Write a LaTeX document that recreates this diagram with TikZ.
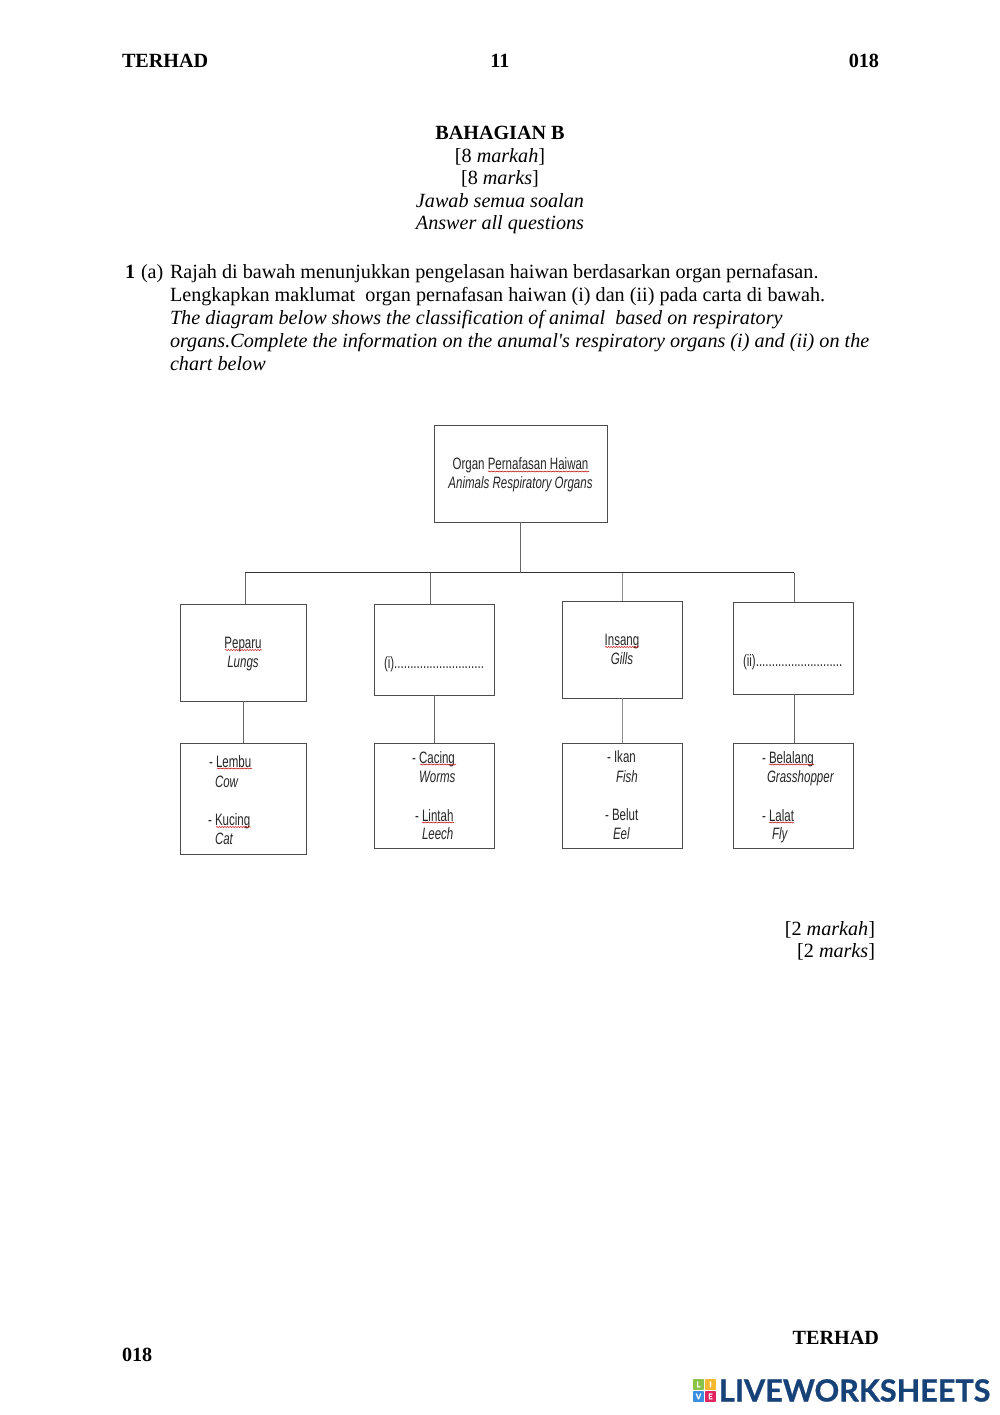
\documentclass[tikz,border=0pt]{standalone}
\usepackage{fontspec}
\setmainfont[Ligatures=TeXOff]{Liberation Serif}
\newfontfamily\chartfont[FakeStretch=0.70]{Liberation Sans}
\newfontfamily\logofont[BoldFeatures={FakeBold=0.8}]{Lato}
\usetikzlibrary{decorations.pathmorphing}
\definecolor{logoblue}{RGB}{22,66,120}
\definecolor{logoL}{RGB}{139,195,74}
\definecolor{logoI}{RGB}{245,184,46}
\definecolor{logoV}{RGB}{59,143,224}
\definecolor{logoE}{RGB}{224,36,94}
\tikzset{
  x=0.5974pt,y=-0.5974pt,
  pg/.style={inner sep=0pt,outer sep=0pt,anchor=base west,font=\fontsize{12bp}{14bp}\selectfont,text=black},
  pgc/.style={pg,anchor=base},
  pge/.style={pg,anchor=base east},
  chart/.style={inner sep=0pt,outer sep=0pt,anchor=base,font=\chartfont\fontsize{9.8bp}{11bp}\selectfont,text=black!85},
  chartl/.style={chart,anchor=base west},
  box/.style={draw=black!70,line width=0.55pt,inner sep=0pt,outer sep=0pt,fill=none},
  link/.style={draw=black!60,line width=0.55pt},
  wavy/.style={draw=red!75!black,line width=0.3pt,decorate,decoration={snake,amplitude=0.3pt,segment length=1.6pt}},
  logobox/.style={inner sep=0pt,outer sep=0pt,minimum size=6.5pt,rounded corners=0.5pt,text=white,font=\logofont\bfseries\fontsize{4.6bp}{5bp}\selectfont},
}
\newcommand{\bx}[6]{\node[box,minimum width=#4*0.5974pt-#2*0.5974pt,minimum height=#5*0.5974pt-#3*0.5974pt] (#1) at ({(#2+#4)/2},{(#3+#5)/2}) {};}
\begin{document}
\begin{tikzpicture}
\useasboundingbox (0,0) rectangle (1000,1415);
\fill[white] (0,0) rectangle (1000,1415);
% header
\node[pg] (hL) at (122,67) {\textbf{TERHAD}};
\node[pgc] (hC) at (500,67) {\textbf{11}};
\node[pge] (hR) at (879,67) {\textbf{018}};
% section
\node[pgc] (s1) at (500,139) {\textbf{BAHAGIAN B}};
\node[pgc] (s2) at (500,162) {[8 \textit{markah}]};
\node[pgc] (s3) at (500,184) {[8 \textit{marks}]};
\node[pgc] (s4) at (500,207) {\textit{Jawab semua soalan}};
\node[pgc] (s5) at (500,229.5) {\textit{Answer all questions}};
% question
\node[pg] (q1) at (125,278.5) {\textbf{1}};
\node[pg] (q2) at (141,278.5) {(a)};
\node[pg] (l1) at (170,278.5) {Rajah di bawah menunjukkan pengelasan haiwan berdasarkan organ pernafasan.};
\node[pg] (l2) at (170,301.5) {Lengkapkan maklumat\ \ organ pernafasan haiwan (i) dan (ii) pada carta di bawah.};
\node[pg] (l3) at (170,324) {\textit{The diagram below shows the classification of animal\ \ based on respiratory}};
\node[pg] (l4) at (170,347) {\textit{organs.Complete the information on the anumal's respiratory organs (i) and (ii) on the}};
\node[pg] (l5) at (170,370) {\textit{chart below}};
% boxes
\bx{root}{434}{425}{607}{522}{}
\bx{a}{180}{604}{306}{701}{}
\bx{b}{374}{604}{494}{695}{}
\bx{c}{562}{601}{682}{698}{}
\bx{d}{733}{602}{853}{694}{}
\bx{e}{180}{743}{306}{854}{}
\bx{f}{374}{743}{494}{848}{}
\bx{g}{562}{743}{682}{848}{}
\bx{h}{733}{743}{853}{848}{}
% connectors
\coordinate (busL) at (245,572.5);
\coordinate (busR) at (794,572.5);
\coordinate (busM) at (520.5,572.5);
\coordinate (dropB) at (430,572.5);
\coordinate (dropC) at (622,572.5);
\draw[link,draw=black!80] (busL) -- (busR);
\draw[link] (root.south) -- (busM);
\draw[link] (busL) -- (busL |- a.north);
\draw[link] (dropB) -- (dropB |- b.north);
\draw[link,draw=black!45] (dropC) -- (dropC |- c.north);
\draw[link] (busR) -- (busR |- d.north);
\coordinate (ae) at (243.5,701);
\coordinate (bf) at (434,695);
\coordinate (cg) at (622,698);
\coordinate (dh) at (794,694);
\draw[link] (ae) -- (ae |- e.north);
\draw[link] (bf) -- (bf |- f.north);
\draw[link,draw=black!45] (cg) -- (cg |- g.north);
\draw[link] (dh) -- (dh |- h.north);
% chart text
\node[chart] (t0) at (520.5,469) {Organ Pernafasan Haiwan};
\node[chart] (t0i) at (520.5,488) {\itshape Animals Respiratory Organs};
\draw[wavy] (488,471.5) -- (589,471.5);
\node[chart] (ta) at (243,648) {Peparu};
\node[chart] (tai) at (243,667) {\itshape Lungs};
\draw[wavy] (225,650) -- (262,650);
\node[chartl] (tb) at (384,668) {(i)............................};
\node[chart] (tc) at (622,645) {Insang};
\node[chart] (tci) at (622,664) {\itshape Gills};
\draw[wavy] (605,647) -- (639,647);
\node[chartl] (td) at (743,666) {(ii)...........................};
\node[chartl] (te1) at (209,767) {- Lembu};
\node[chartl] (te2) at (215,787) {\itshape Cow};
\node[chartl] (te3) at (208,825) {- Kucing};
\node[chartl] (te4) at (215,844) {\itshape Cat};
\draw[wavy] (217,768.5) -- (252,768.5);
\draw[wavy] (216,827) -- (251,827);
\node[chartl] (tf1) at (412,763) {- Cacing};
\node[chartl] (tf2) at (419,782) {\itshape Worms};
\node[chartl] (tf3) at (415,821) {- Lintah};
\node[chartl] (tf4) at (422,839) {\itshape Leech};
\draw[wavy] (420,764.5) -- (456,764.5);
\draw[wavy] (422,822.5) -- (454,822.5);
\node[chartl] (tg1) at (607,762) {- Ikan};
\node[chartl] (tg2) at (616,782) {\itshape Fish};
\node[chartl] (tg3) at (605,820) {- Belut};
\node[chartl] (tg4) at (613,839) {\itshape Eel};
\node[chartl] (th1) at (762,763) {- Belalang};
\node[chartl] (th2) at (767,782) {\itshape Grasshopper};
\node[chartl] (th3) at (762,821) {- Lalat};
\node[chartl] (th4) at (772,839) {\itshape Fly};
\draw[wavy] (769,764.5) -- (814,764.5);
\draw[wavy] (769,822.5) -- (794,822.5);
% marks
\node[pge] (m1) at (875,935) {[2 \textit{markah}]};
\node[pge] (m2) at (875,957.5) {[2 \textit{marks}]};
% footer
\node[pge] (fR) at (879,1344) {\textbf{TERHAD}};
\node[pg] (fL) at (122,1361) {\textbf{018}};
% logo
\node[logobox,fill=logoL] (lgL) at (698.5,1384.5) {L};
\node[logobox,fill=logoI] (lgI) at (710.5,1384.5) {I};
\node[logobox,fill=logoV] (lgV) at (698.5,1396.5) {V};
\node[logobox,fill=logoE] (lgE) at (710.5,1396.5) {E};
\node[inner sep=0pt,outer sep=0pt,anchor=base west,text=logoblue,font=\logofont\bfseries\fontsize{18.2bp}{20bp}\selectfont] (lgT) at (719,1401.5) {LIVEWORKSHEETS};
\end{tikzpicture}
\end{document}
